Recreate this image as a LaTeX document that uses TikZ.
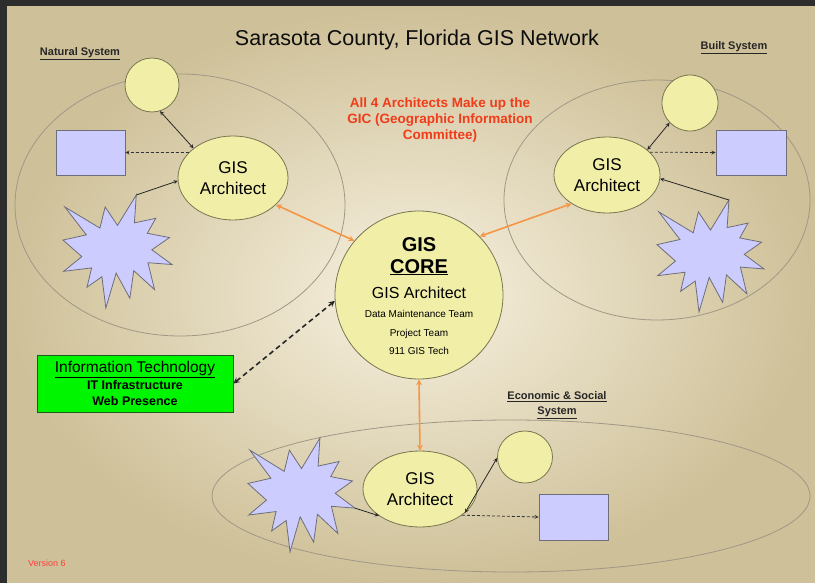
\documentclass[tikz,border=0pt]{standalone}
\usepackage{fontspec}
\setmainfont{Liberation Sans}
\usetikzlibrary{shapes.geometric,arrows}

\definecolor{frame}{RGB}{45,45,45}
\definecolor{bglight}{RGB}{247,241,224}
\definecolor{bgdark}{RGB}{206,192,152}
\definecolor{areagray}{RGB}{160,152,135}
\definecolor{archyellow}{RGB}{241,238,168}
\definecolor{archedge}{RGB}{120,118,80}
\definecolor{datablue}{RGB}{204,204,255}
\definecolor{dataedge}{RGB}{110,110,120}
\definecolor{coreorange}{RGB}{245,150,70}
\definecolor{notered}{RGB}{240,60,25}
\definecolor{itgreen}{RGB}{0,245,0}
\definecolor{itedge}{RGB}{30,90,30}

% explosion shape, unit box, y downwards
\tikzset{
  explosion/.pic={
    \draw[starfill] (0.5,0.2685) -- (0.6723,0) -- (0.6553,0.2465) -- (0.8509,0.2063)
      -- (0.7732,0.3387) -- (0.9767,0.3767) -- (0.8151,0.4850) -- (1,0.6153)
      -- (0.7795,0.5992) -- (0.8400,0.8377) -- (0.6491,0.6693) -- (0.6133,0.9137)
      -- (0.4876,0.6914) -- (0.3928,1) -- (0.3572,0.7235) -- (0.2205,0.8156)
      -- (0.2624,0.6452) -- (0.0063,0.6753) -- (0.1723,0.5451) -- (0,0.3988)
      -- (0.2142,0.3526) -- (0.0171,0.1063) -- (0.3385,0.2926) -- (0.3867,0.1063) -- cycle;
    \coordinate (-top) at (0.6723,0);
    \coordinate (-right) at (1,0.6153);
  }
}

\begin{document}
\begin{tikzpicture}[x=1pt, y=-1pt, >=stealth,
    sysarea/.style={ellipse, draw=areagray, line width=0.8pt, inner sep=0pt},
    archnode/.style={ellipse, draw=archedge, fill=archyellow, line width=0.8pt, inner sep=0pt,
      align=center, font=\fontsize{17}{21}\selectfont},
    satnode/.style={ellipse, draw=archedge, fill=archyellow, line width=0.8pt, inner sep=0pt},
    datanode/.style={rectangle, draw=dataedge, fill=datablue, line width=0.8pt, inner sep=0pt},
    starfill/.style={draw=dataedge, fill=datablue, line width=0.8pt},
    linkarr/.style={draw=black!85, line width=0.8pt},
    feedarr/.style={draw=black!80, line width=0.8pt, dash pattern=on 3pt off 2pt},
    corearr/.style={<->, draw=coreorange, line width=1.6pt},
    syslabel/.style={font=\fontsize{11}{15}\selectfont\bfseries, text=black!85, align=center},
  ]
  % --- Background ---
  \useasboundingbox (0,0) rectangle (815,583);
  \fill[frame] (0,0) rectangle (815,583);
  \shade[inner color=bglight, outer color=bgdark] (7,7) rectangle (815,583);

  % --- Titles ---
  \node[font=\fontsize{21.5}{24}\selectfont, text=black!95, anchor=base] (title) at (417,46)
    {Sarasota County, Florida GIS Network};
  \node[syslabel, anchor=base] (natlbl) at (80,56) {\underline{Natural System}};
  \node[syslabel, anchor=base] (builtlbl) at (734,50) {\underline{Built System}};
  \node[syslabel] (econlbl) at (557,405) {\underline{Economic \& Social}\\\underline{System}};
  \node[font=\fontsize{13.5}{16}\selectfont\bfseries, text=notered, align=center] (gicnote) at (440,120)
    {All 4 Architects Make up the\\GIC (Geographic Information\\Committee)};

  % --- System areas ---
  \node[sysarea, minimum width=330pt, minimum height=262pt] (natarea) at (180,205) {};
  \node[sysarea, minimum width=306pt, minimum height=240pt] (builtarea) at (657,200) {};
  \node[sysarea, minimum width=598pt, minimum height=152pt] (econarea) at (511,496) {};

  % --- Natural system ---
  \node[satnode, minimum width=54pt, minimum height=54pt] (lsat) at (152,85) {};
  \node[datanode, minimum width=69pt, minimum height=45pt] (lrect) at (90.5,152.5) {};
  \pic[xscale=109, yscale=113] (lstar) at (63,195) {explosion};
  \node[archnode, minimum width=110pt, minimum height=84pt] (larch) at (233,178) {GIS\\Architect};
  \draw[linkarr, <->] (lsat.287) -- (larch.143);
  \draw[feedarr, ->] (larch.150) -- (lrect.east);
  \draw[linkarr, ->] (lstar-top) -- (larch.183);

  % --- Built system ---
  \node[satnode, minimum width=56pt, minimum height=56pt] (rsat) at (690,103) {};
  \node[datanode, minimum width=70pt, minimum height=45pt] (rrect) at (751,152.5) {};
  \pic[xscale=107, yscale=112] (rstar) at (657,200) {explosion};
  \node[archnode, minimum width=106pt, minimum height=76pt] (rarch) at (607,175) {GIS\\Architect};
  \draw[linkarr, <->] (rsat.224) -- (rarch.32);
  \draw[feedarr, ->] (rarch.28) -- (rrect.west);
  \draw[linkarr, ->] (rstar-top) -- (rarch.356);

  % --- Economic & social system ---
  \node[satnode, minimum width=55pt, minimum height=52pt] (bsat) at (525,457) {};
  \node[datanode, minimum width=69pt, minimum height=46pt] (brect) at (573.5,517) {};
  \pic[xscale=107, yscale=114] (bstar) at (248,438) {explosion};
  \node[archnode, minimum width=114pt, minimum height=76pt] (barch) at (420,489) {GIS\\Architect};
  \draw[linkarr, ->] (bstar-right) -- (barch.213);
  \draw[linkarr, <->] (barch.332) -- (bsat.182);
  \draw[feedarr, ->] (barch.328) -- (brect.west);

  % --- GIS core ---
  \node[circle, draw=archedge, fill=archyellow, line width=0.8pt, minimum size=168pt] (core) at (419,295) {};
  \node[font=\fontsize{20}{20}\selectfont\bfseries, anchor=base, inner sep=0pt] (coregis) at (419,252) {GIS};
  \node[font=\fontsize{20}{20}\selectfont\bfseries, anchor=base, inner sep=0pt] (corecore) at (419,273) {\underline{CORE}};
  \node[font=\fontsize{16}{16}\selectfont, anchor=base] (corearch) at (419,298.5) {GIS Architect};
  \node[font=\fontsize{10}{10}\selectfont, anchor=base] (coredmt) at (419,317) {Data Maintenance Team};
  \node[font=\fontsize{10}{10}\selectfont, anchor=base] (coreproj) at (419,336) {Project Team};
  \node[font=\fontsize{10}{10}\selectfont, anchor=base] (coretech) at (419,354) {911 GIS Tech};

  % --- Links to the core ---
  \draw[corearr] (larch.328) -- (core.140);
  \draw[corearr] (rarch.219) -- (core.44);
  \draw[corearr] (core.south) -- (barch.north);

  % --- Information Technology ---
  \node[rectangle, draw=itedge, fill=itgreen, line width=1pt, minimum width=196pt, minimum height=57pt,
    align=center, font=\fontsize{12.5}{16.5}\selectfont\bfseries] (itbox) at (135,383.5)
    {{\mdseries\fontsize{15.5}{16.5}\selectfont\underline{Information Technology}}\\IT Infrastructure\\Web Presence};
  \draw[<->, draw=black!85, line width=1.6pt, dash pattern=on 5pt off 3.5pt] (itbox.east) -- (core.184);

  % --- Version ---
  \node[font=\fontsize{9}{9}\selectfont, text=red!75, anchor=base] (version) at (47,566) {Version 6};
\end{tikzpicture}
\end{document}
